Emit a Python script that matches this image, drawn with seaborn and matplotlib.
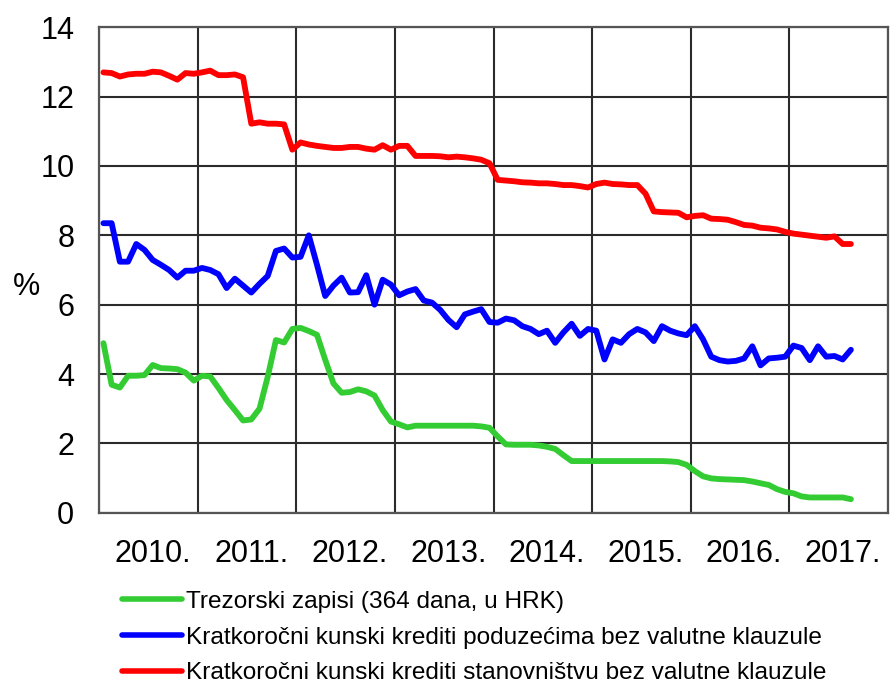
import numpy as np
import pandas as pd
import matplotlib
matplotlib.use("Agg")
import matplotlib.pyplot as plt
from matplotlib import font_manager
from matplotlib.lines import Line2D
import seaborn as sns

# monthly observations, Jan 2010 - Aug 2017
months = pd.date_range("2010-01-01", periods=92, freq="MS")

trezorski = [
    4.89, 3.69, 3.61, 3.95, 3.95, 3.97, 4.26, 4.17, 4.16, 4.14,
    4.04, 3.81, 3.95, 3.93, 3.60, 3.25, 2.96, 2.66, 2.69, 3.00,
    3.92, 4.98, 4.91, 5.30, 5.33, 5.24, 5.13, 4.41, 3.73, 3.46,
    3.48, 3.56, 3.50, 3.38, 2.96, 2.63, 2.55, 2.46, 2.51, 2.51,
    2.51, 2.51, 2.51, 2.51, 2.51, 2.51, 2.49, 2.45, 2.20, 1.97,
    1.96, 1.96, 1.96, 1.94, 1.90, 1.84, 1.66, 1.49, 1.49, 1.49,
    1.49, 1.49, 1.49, 1.49, 1.49, 1.49, 1.49, 1.49, 1.49, 1.48,
    1.46, 1.38, 1.20, 1.05, 0.99, 0.97, 0.96, 0.95, 0.94, 0.90,
    0.85, 0.80, 0.68, 0.60, 0.56, 0.47, 0.44, 0.44, 0.44, 0.44,
    0.44, 0.39,
]

poduzeca = [
    8.35, 8.35, 7.24, 7.24, 7.75, 7.58, 7.29, 7.15, 7.00, 6.78,
    6.98, 6.98, 7.06, 7.00, 6.88, 6.48, 6.75, 6.55, 6.35, 6.60,
    6.83, 7.55, 7.62, 7.36, 7.38, 8.00, 7.15, 6.25, 6.55, 6.78,
    6.35, 6.36, 6.85, 6.00, 6.72, 6.58, 6.27, 6.38, 6.45, 6.12,
    6.06, 5.85, 5.56, 5.35, 5.72, 5.80, 5.87, 5.50, 5.48, 5.60,
    5.55, 5.38, 5.30, 5.15, 5.25, 4.90, 5.20, 5.45, 5.10, 5.30,
    5.25, 4.42, 5.00, 4.90, 5.15, 5.30, 5.20, 4.95, 5.38, 5.25,
    5.17, 5.12, 5.38, 5.00, 4.50, 4.40, 4.36, 4.38, 4.45, 4.80,
    4.25, 4.45, 4.47, 4.50, 4.82, 4.75, 4.40, 4.80, 4.50, 4.52,
    4.42, 4.70,
]

stanovnistvo = [
    12.70, 12.68, 12.58, 12.64, 12.66, 12.66, 12.72, 12.70, 12.60, 12.49,
    12.68, 12.66, 12.70, 12.75, 12.62, 12.62, 12.64, 12.56, 11.22, 11.26,
    11.22, 11.22, 11.20, 10.47, 10.68, 10.62, 10.58, 10.55, 10.52, 10.52,
    10.55, 10.55, 10.50, 10.47, 10.60, 10.47, 10.58, 10.58, 10.29, 10.29,
    10.29, 10.28, 10.25, 10.27, 10.25, 10.22, 10.18, 10.08, 9.60, 9.58,
    9.56, 9.53, 9.52, 9.50, 9.50, 9.48, 9.45, 9.45, 9.42, 9.38,
    9.48, 9.52, 9.48, 9.47, 9.45, 9.45, 9.20, 8.69, 8.67, 8.66,
    8.65, 8.52, 8.56, 8.58, 8.48, 8.47, 8.45, 8.38, 8.30, 8.28,
    8.22, 8.20, 8.17, 8.10, 8.05, 8.02, 7.99, 7.96, 7.93, 7.97,
    7.75, 7.75,
]

series_names = [
    "Trezorski zapisi (364 dana, u HRK)",
    "Kratkoročni kunski krediti poduzećima bez valutne klauzule",
    "Kratkoročni kunski krediti stanovništvu bez valutne klauzule",
]
series_colors = ["#33cc33", "#0000ff", "#ff0000"]
year_labels = ["2010.", "2011.", "2012.", "2013.", "2014.", "2015.", "2016.", "2017."]

sns.set_style("white")
installed = {f.name for f in font_manager.fontManager.ttflist}
if "Liberation Sans Narrow" in installed:
    fam = ["Liberation Sans Narrow", "DejaVu Sans"]
    tick_size, leg_size = 25, 21
else:
    fam = ["Liberation Sans", "DejaVu Sans"]
    tick_size, leg_size = 22, 17.6
plt.rcParams["font.family"] = fam
plt.rcParams["text.color"] = "black"
plt.rcParams["xtick.color"] = "black"
plt.rcParams["ytick.color"] = "black"

# decimal year, mid-month
xpos = months.year + (months.month - 0.5) / 12.0
df = pd.DataFrame({
    "x": np.tile(xpos, 3),
    "value": trezorski + poduzeca + stanovnistvo,
    "serija": np.repeat(series_names, len(months)),
})

fig = plt.figure(figsize=(8.9, 6.86), dpi=100)
ax = fig.add_axes([0.1116, 0.2526, 0.886, 0.7076])

sns.lineplot(data=df, x="x", y="value", hue="serija", hue_order=series_names,
             palette=series_colors, linewidth=4.2, ax=ax, legend=False, zorder=3)

ax.set_xlim(2010, 2018)
ax.set_ylim(0, 14)
ax.set_yticks(range(0, 15, 2))
ax.set_xticks(range(2010, 2019))
ax.set_xticklabels([])
ax.set_xticks([2010.54 + i for i in range(len(year_labels))], minor=True)
ax.set_xticklabels(year_labels, minor=True)
ax.tick_params(axis="x", which="both", length=0, pad=19, labelsize=tick_size)
ax.tick_params(axis="y", length=0, pad=18, labelsize=tick_size)
ax.grid(True, which="major", color="#2b2b2b", linewidth=1.5)
for s in ax.spines.values():
    s.set_color("#555555")
    s.set_linewidth(1.6)
ax.set_xlabel("")
ax.set_ylabel("")
fig.text(26 / 890, 1 - 287 / 686, "%", fontsize=tick_size, ha="center", va="center")

handles = [Line2D([0], [0], color=c, linewidth=4, solid_capstyle="round") for c in series_colors]
fig.legend(handles, series_names, loc="upper left", bbox_to_anchor=(0.137, 0.139),
           frameon=False, handlelength=2.45, handletextpad=0.17, labelspacing=0.56,
           borderaxespad=0, borderpad=0, prop={"family": fam, "size": leg_size})

fig.savefig("out.png", dpi=100)
